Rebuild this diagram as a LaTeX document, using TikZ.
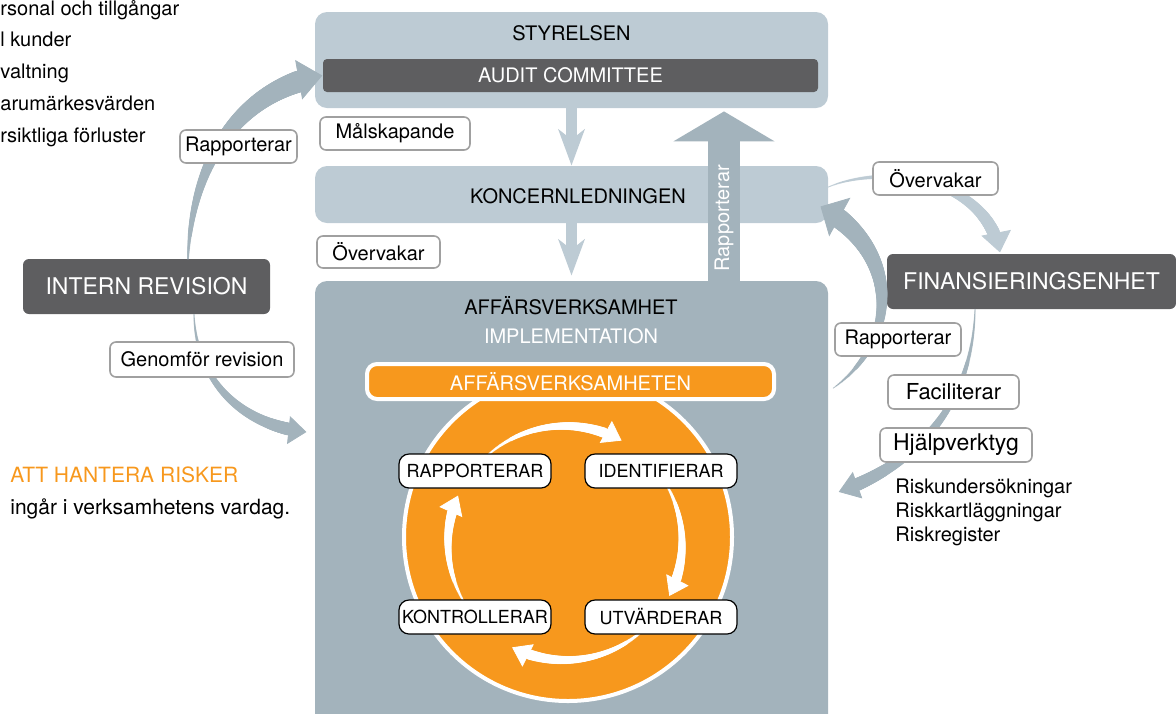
\documentclass[tikz,border=0pt]{standalone}
\usepackage{fontspec}
\setmainfont{TeX Gyre Heros}
\usetikzlibrary{arrows.meta, decorations.markings}

\definecolor{boxlight}{HTML}{BDCBD4}
\definecolor{boxmid}{HTML}{A3B3BC}
\definecolor{boxdark}{HTML}{5E5E60}
\definecolor{riskorange}{HTML}{F7981D}
\definecolor{tagline}{HTML}{A0A0A0}

\begin{document}
\begin{tikzpicture}[x=0.5pt, y=-0.5pt,
    every node/.append style={font=\fontsize{10}{12}\selectfont},
    bigbox/.style={fill=boxlight, rounded corners=6pt, minimum width=256.5pt, inner sep=0pt},
    darkbox/.style={fill=boxdark, text=white, rounded corners=3pt, inner sep=0pt, font=\fontsize{11.5}{13}\selectfont},
    tag/.style={draw=tagline, line width=0.8pt, fill=white, rounded corners=3pt, inner sep=0pt},
    cycbox/.style={draw=black, line width=0.6pt, fill=white, rounded corners=5pt, minimum width=76pt, minimum height=17pt, inner sep=0pt, font=\fontsize{9}{11}\selectfont},
    downarrow/.style={draw=boxlight, line width=5.5pt, -{Stealth[width=13pt, length=18pt, inset=5pt]}},
    taper/.style n args={5}{postaction={decorate}, decoration={markings,
        mark=between positions 0 and -#5 step 0.5pt with {
            \pgfmathsetmacro\taprad{#2+(#3-#2)*\pgfkeysvalueof{/pgf/decoration/mark info/distance from start}/\pgfdecoratedpathlength}
            \fill[#1] (0,0) circle[radius=\taprad pt];},
        mark=at position 1 with {\arrow[#1]{Triangle[width=#4, length=#5]}}}}
    ]
                \useasboundingbox (0,0) rectangle (1176,713);

                % the loose texts
                \foreach \t [count=\i] in {rsonal och tillgångar, l kunder, valtning, arumärkesvärden, rsiktliga förluster}
                    \node[anchor=base west, inner sep=0pt] (goal\i) at (0,{15+31.8*(\i-1)}) {\t};
                \node[anchor=base west, inner sep=0pt, text=riskorange, font=\fontsize{10.5}{12}\selectfont] (risk) at (10,482) {ATT HANTERA RISKER};
                \node[anchor=base west, inner sep=0pt, font=\fontsize{10.5}{12}\selectfont] (vardag) at (10,514) {ingår i verksamhetens vardag.};
                \foreach \t [count=\i] in {Riskundersökningar, Riskkartläggningar, Riskregister}
                    \node[anchor=base west, inner sep=0pt] (tool\i) at (895,{493+24*(\i-1)}) {\t};

                % the levels
                \node[bigbox, minimum height=48pt] (sty) at (571.5,60) {};
                \node (stytxt) at (571.5,33) {STYRELSEN};
                \node[fill=boxdark, text=white, rounded corners=2pt, minimum width=247.5pt, minimum height=16.5pt, inner sep=0pt] (audit) at (570.5,75.5) {AUDIT COMMITTEE};
                \node[bigbox, minimum height=28.5pt] (kl) at (571.5,194.5) {};
                \node (kltxt) at (578,196) {KONCERNLEDNINGEN};
                \node[bigbox, fill=boxmid, minimum height=229.5pt] (aff) at (571.5,510.5) {};
                \node (afftxt) at (571,306) {AFFÄRSVERKSAMHET};
                \node[text=white] (impl) at (571,336) {IMPLEMENTATION};

                % the wheel
                \node[circle, fill=riskorange, draw=white, line width=2pt, minimum size=164pt, inner sep=0pt] (wheel) at (568,537) {};
                \node[fill=riskorange, draw=white, line width=2pt, rounded corners=5pt, minimum width=203.5pt, minimum height=17.5pt, inner sep=0pt, text=white] (bar) at (570.5,381.5) {AFFÄRSVERKSAMHETEN};
                \coordinate (hub) at (565,543);
                \path[taper={white}{0.5}{2.9}{12.5pt}{9pt}] ([shift={(-132:117)}]hub) arc[start angle=-132, end angle=-61, radius=117];
                \path[taper={white}{0.5}{2.9}{12.5pt}{9pt}] ([shift={(-32:117)}]hub) arc[start angle=-32, end angle=27, radius=117];
                \path[taper={white}{0.5}{2.9}{12.5pt}{9pt}] ([shift={(43:117)}]hub) arc[start angle=43, end angle=117, radius=117];
                \path[taper={white}{0.5}{2.9}{12.5pt}{9pt}] ([shift={(-210:117)}]hub) arc[start angle=-210, end angle=-156, radius=117];
                \node[cycbox] (rapp) at (475,471) {RAPPORTERAR};
                \node[cycbox] (ident) at (661,471) {IDENTIFIERAR};
                \node[cycbox] (kontr) at (475,617) {KONTROLLERAR};
                \node[cycbox] (utv) at (661,617) {UTVÄRDERAR};

                % the side units
                \node[darkbox, minimum width=123.5pt, minimum height=27.5pt] (ir) at (146.5,286.5) {INTERN REVISION};
                \node[darkbox, minimum width=144.5pt, minimum height=27.5pt] (fin) at (1031.5,281.5) {FINANSIERINGSENHET};

                % straight arrows
                \draw[downarrow] (sty.south) -- (kl.north);
                \draw[downarrow] (kl.south) -- ([shift={(0,-5)}]aff.north);
                \draw[boxmid, line width=16pt, -{Triangle[width=50pt, length=15pt]}] ([shift={(152.5,0)}]aff.north) -- node[pos=0.37, rotate=90, text=white, inner sep=0pt] (rappup) {Rapporterar} ([shift={(152.5,3)}]sty.south);

                % curved arrows
                \path[taper={boxmid}{0.5}{6}{20pt}{12pt}] ([shift={(41.5,0)}]ir.north) .. controls (192,160) and (240,90) .. (audit.west);
                \path[taper={boxmid}{0.3}{3.5}{14pt}{9pt}] ([shift={(47.5,0)}]ir.south) .. controls (196,380) and (240,425) .. ([shift={(-8,-78.5)}]aff.west);
                \path[taper={boxlight}{0.3}{3.5}{15pt}{10pt}] ([shift={(0,-7.5)}]kl.east) .. controls (880,165) and (985,175) .. ([shift={(-31.5,-1)}]fin.north);
                \path[taper={boxmid}{0.3}{5.5}{22pt}{11pt}] ([shift={(5,-122.5)}]aff.east) .. controls (900,340) and (900,250) .. ([shift={(-8,-17)}]kl.south east);
                \path[taper={boxmid}{0.3}{3.5}{14pt}{10pt}] ([shift={(-56.5,0)}]fin.south) .. controls (972,420) and (900,470) .. ([shift={(10,-18.5)}]aff.east);

                % the tags
                \node[tag, minimum width=75pt, minimum height=16.5pt] (malsk) at (395,133.5) {Målskapande};
                \node[tag, minimum width=61.5pt, minimum height=16pt] (overv) at (378.5,252) {Övervakar};
                \node[tag, minimum width=58.5pt, minimum height=16.5pt] (rappir) at (238.5,146.5) {Rapporterar};
                \node[tag, minimum width=92pt, minimum height=17.5pt] (genom) at (202,359.5) {Genomför revision};
                \node[tag, minimum width=62.5pt, minimum height=16.5pt] (overvfin) at (935.5,178.5) {Övervakar};
                \node[tag, minimum width=63pt, minimum height=16.5pt] (rappfin) at (898,339.5) {Rapporterar};
                \node[tag, minimum width=65.5pt, minimum height=17pt, font=\fontsize{11}{13}\selectfont] (facil) at (953.5,392) {Faciliterar};
                \node[tag, minimum width=76pt, minimum height=17pt, font=\fontsize{11.5}{13}\selectfont] (hjalp) at (956,445) {Hjälpverktyg};
            \end{tikzpicture}
\end{document}
